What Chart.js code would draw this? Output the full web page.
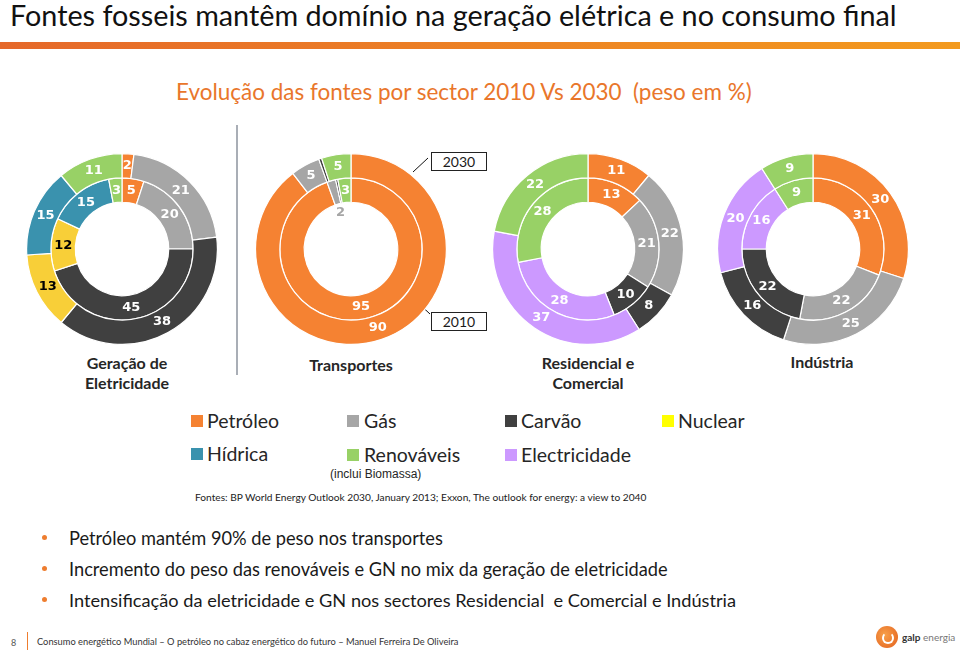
<!DOCTYPE html>
<html>
<head>
<meta charset="utf-8">
<script src="https://cdn.jsdelivr.net/npm/chart.js@4.4.1/dist/chart.umd.min.js"></script>
<style>
  body { margin: 0; width: 960px; height: 653px; position: relative; background: #fff; overflow: hidden;
         font-family: Lato, "Open Sans", sans-serif; color: #1a1a1a; }
  .t { position: absolute; white-space: nowrap; line-height: 1; transform: translateY(-50%); }
  .c { transform: translate(-50%, -50%); text-align: center; }
  .donut { position: absolute; width: 192px; height: 192px; }
  .sector { font-weight: bold; font-size: 16px; color: #262626; line-height: 20px; }
  .sq { position: absolute; width: 12px; height: 12px; }
  .leg { font-size: 19.5px; color: #262626; }
  .box { position: absolute; border: 1px solid #222; background: #fff; font-size: 14px; text-align: center;
         line-height: 17px; width: 54px; height: 17px; }
  .bul { font-size: 18px; color: #1a1a1a; }
  .dot { position: absolute; width: 5px; height: 5px; border-radius: 50%; background: #ee7d2f; }
</style>
</head>
<body>
<div style="position:absolute;left:0;top:42px;width:960px;height:7px;background:linear-gradient(90deg,#e5682a,#f39a1e)"></div>
<div class="t" style="left:10px;top:15px;font-size:28px;color:#111" data-w="887">Fontes fosseis mantêm domínio na geração elétrica e no consumo final</div>
<div class="t" style="left:176px;top:92px;font-size:22px;color:#e9762b" data-w="576">Evolução das fontes por sector 2010 Vs 2030&nbsp; (peso em %)</div>

<svg width="960" height="653" style="position:absolute;left:0;top:0">
  <line x1="237" y1="125" x2="237" y2="375" stroke="#a9aeb6" stroke-width="2"/>
  <line x1="413" y1="172" x2="428" y2="158" stroke="#111" stroke-width="1"/>
  <line x1="402" y1="288" x2="430" y2="314" stroke="#111" stroke-width="1"/>
</svg>

<div class="donut" style="left:26px;top:153px"><canvas id="geracao" width="192" height="192"></canvas></div>
<div class="donut" style="left:255px;top:153px"><canvas id="transportes" width="192" height="192"></canvas></div>
<div class="donut" style="left:492px;top:153px"><canvas id="residencial" width="192" height="192"></canvas></div>
<div class="donut" style="left:717px;top:153px"><canvas id="industria" width="192" height="192"></canvas></div>

<div class="box" style="left:431px;top:152px">2030</div>
<div class="box" style="left:431px;top:312px">2010</div>

<div class="t c sector" style="left:127px;top:373px">Geração de<br>Eletricidade</div>
<div class="t c sector" style="left:351px;top:365px">Transportes</div>
<div class="t c sector" style="left:588px;top:373px">Residencial e<br>Comercial</div>
<div class="t c sector" style="left:822px;top:362px">Indústria</div>

<div class="sq" style="left:191px;top:415px;background:#f58232"></div>
<div class="t leg" style="left:207px;top:421px">Petróleo</div>
<div class="sq" style="left:347px;top:415px;background:#a6a6a6"></div>
<div class="t leg" style="left:364px;top:421px">Gás</div>
<div class="sq" style="left:505px;top:415px;background:#404040"></div>
<div class="t leg" style="left:521px;top:421px">Carvão</div>
<div class="sq" style="left:662px;top:415px;background:#ffff00"></div>
<div class="t leg" style="left:678px;top:421px">Nuclear</div>
<div class="sq" style="left:191px;top:448px;background:#3a92ae"></div>
<div class="t leg" style="left:207px;top:454px">Hídrica</div>
<div class="sq" style="left:347px;top:449px;background:#98d166"></div>
<div class="t leg" style="left:364px;top:455px">Renováveis</div>
<div class="t" style="left:330px;top:474px;font-size:12px;color:#262626;font-family:'Liberation Sans',sans-serif">(inclui Biomassa)</div>
<div class="sq" style="left:505px;top:449px;background:#cc99ff"></div>
<div class="t leg" style="left:521px;top:455px">Electricidade</div>

<div class="t" style="left:195px;top:497px;font-size:10px;color:#222" data-w="452">Fontes: BP World Energy Outlook 2030, January 2013; Exxon, The outlook for energy: a view to 2040</div>

<div class="dot" style="left:42px;top:535px"></div>
<div class="t bul" style="left:69px;top:538px" data-w="374">Petróleo mantém 90% de peso nos transportes</div>
<div class="dot" style="left:42px;top:566px"></div>
<div class="t bul" style="left:69px;top:569px" data-w="599">Incremento do peso das renováveis e GN no mix da geração de eletricidade</div>
<div class="dot" style="left:42px;top:597px"></div>
<div class="t bul" style="left:69px;top:600px" data-w="668">Intensificação da eletricidade e GN nos sectores Residencial&nbsp; e Comercial e Indústria</div>

<div class="t" style="left:11px;top:642px;font-size:9px;color:#555">8</div>
<div style="position:absolute;left:27px;top:632px;width:1px;height:18px;background:#ee7d2f"></div>
<div class="t" style="left:37px;top:642px;font-size:9px;color:#333" data-w="422">Consumo energético Mundial – O petróleo no cabaz energético do futuro – Manuel Ferreira De Oliveira</div>
<div style="position:absolute;left:876px;top:626px;width:22px;height:22px;border-radius:50%;background:radial-gradient(circle at 40% 40%,#f7a04a,#e35f1c)"></div>
<div style="position:absolute;left:882px;top:632px;width:8px;height:8px;border-radius:50%;border:2px solid #fff;border-top-color:transparent"></div>
<div class="t" style="left:902px;top:637px;font-size:10px;color:#777"><b style="color:#333">galp</b> energia</div>

<script>
// Source order as drawn clockwise from 12 o'clock
const SOURCES = ["Petróleo", "Gás", "Carvão", "Nuclear", "Hídrica", "Electricidade", "Renováveis"]

// weight in % — outer ring 2030, inner ring 2010
const GERACAO_2030 = [2, 21, 38, 13, 15, 0, 11]
const GERACAO_2010 = [5, 20, 45, 12, 15, 0, 3]
const TRANSPORTES_2030 = [90, 5, 0.5, 0, 0, 0, 5]
const TRANSPORTES_2010 = [95, 2, 0.5, 0, 0, 0, 3]
const RESIDENCIAL_2030 = [11, 22, 8, 0, 0, 37, 22]
const RESIDENCIAL_2010 = [13, 21, 10, 0, 0, 28, 28]
const INDUSTRIA_2030 = [30, 25, 16, 0, 0, 20, 9]
const INDUSTRIA_2010 = [31, 22, 22, 0, 0, 16, 9]

const COLORS = ["#f58232", "#a6a6a6", "#404040", "#f8cf38", "#3a92ae", "#cc99ff", "#98d166"]

// plain value labels on the arcs; thin inner slices get their number in the hole
const ringLabels = {
  id: "ringLabels",
  afterDatasetsDraw(chart) {
    const ctx = chart.ctx
    ctx.save()
    ctx.font = "bold 13px 'DejaVu Sans'"
    ctx.textAlign = "center"
    ctx.textBaseline = "middle"
    chart.data.datasets.forEach((ds, di) => {
      chart.getDatasetMeta(di).data.forEach((arc, i) => {
        const v = ds.data[i]
        if (!v || v < 1) return
        const p = arc.getProps(["x", "y", "startAngle", "endAngle", "innerRadius", "outerRadius"], true)
        const mid = (p.startAngle + p.endAngle) / 2
        let r = (p.innerRadius + p.outerRadius) / 2
        let color = SOURCES[i] === "Nuclear" ? "#000" : "#fff"
        if (di === 1 && v <= 2) {
          r = p.innerRadius - 9
          color = COLORS[i]
        }
        ctx.fillStyle = color
        ctx.fillText(String(v), p.x + Math.cos(mid) * r, p.y + Math.sin(mid) * r)
      })
    })
    ctx.restore()
  },
}

function buildDonut(id, data2030, data2010) {
  return new Chart(document.getElementById(id), {
    type: "doughnut",
    data: {
      labels: SOURCES,
      datasets: [
        { label: "2030", data: data2030, backgroundColor: COLORS, borderColor: "#fff", borderWidth: 1.2 },
        { label: "2010", data: data2010, backgroundColor: COLORS, borderColor: "#fff", borderWidth: 1.2 },
      ],
    },
    options: {
      responsive: false,
      animation: false,
      cutout: "49%",
      layout: { padding: 0 },
      plugins: { legend: { display: false }, tooltip: { enabled: false } },
    },
    plugins: [ringLabels],
  })
}

buildDonut("geracao", GERACAO_2030, GERACAO_2010)
buildDonut("transportes", TRANSPORTES_2030, TRANSPORTES_2010)
buildDonut("residencial", RESIDENCIAL_2030, RESIDENCIAL_2010)
buildDonut("industria", INDUSTRIA_2030, INDUSTRIA_2010)

// stretch the text lines to the widths they take on the slide
document.querySelectorAll("[data-w]").forEach((el) => {
  const target = Number(el.dataset.w)
  const size = parseFloat(getComputedStyle(el).fontSize)
  el.style.fontSize = (size * target / el.getBoundingClientRect().width).toFixed(2) + "px"
})
</script>
</body>
</html>
